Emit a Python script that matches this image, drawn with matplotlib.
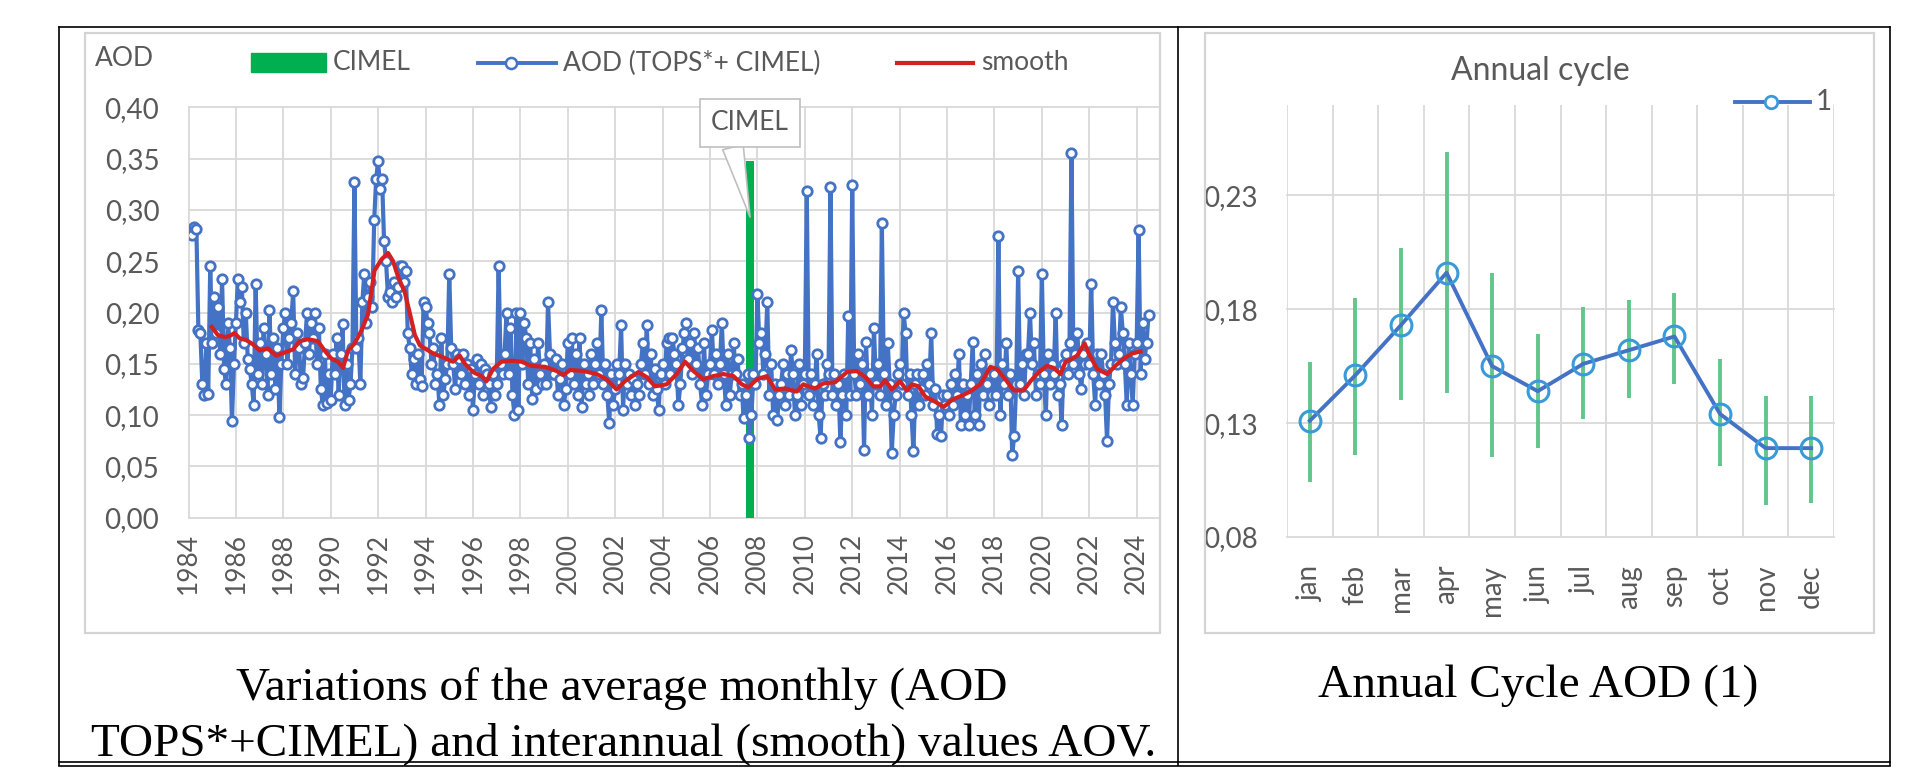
import numpy as np
import matplotlib
matplotlib.use('Agg')
import matplotlib.pyplot as plt
from matplotlib.lines import Line2D
from matplotlib.patches import Rectangle

# monthly AOD (TOPS* + CIMEL), one row per year (Jan..Dec)
# first value is March 1984
aod_1980s = [
    0.276, 0.283, 0.281, 0.183, 0.180, 0.130, 0.120, 0.170, 0.121, 0.245,  # 1984 (Mar-Dec)
    0.170, 0.215, 0.180, 0.205, 0.160, 0.233, 0.145, 0.130, 0.190, 0.165, 0.094, 0.150,
    0.190, 0.233, 0.210, 0.225, 0.170, 0.200, 0.155, 0.145, 0.130, 0.110, 0.228, 0.140,
    0.170, 0.130, 0.185, 0.160, 0.120, 0.202, 0.140, 0.175, 0.125, 0.165, 0.098, 0.150,
    0.185, 0.200, 0.150, 0.175, 0.190, 0.221, 0.140, 0.180, 0.165, 0.130, 0.136, 0.170,
    0.200, 0.160, 0.190, 0.175, 0.200, 0.150, 0.185, 0.125, 0.110, 0.160, 0.112, 0.140,
]
aod_1990s = [
    0.115, 0.160, 0.140, 0.175, 0.120, 0.160, 0.189, 0.110, 0.150, 0.115, 0.130, 0.165,
    0.327, 0.165, 0.175, 0.130, 0.210, 0.238, 0.190, 0.215, 0.230, 0.205, 0.290, 0.330,
    0.348, 0.320, 0.330, 0.270, 0.250, 0.215, 0.220, 0.210, 0.230, 0.215, 0.225, 0.245,
    0.245, 0.230, 0.240, 0.180, 0.165, 0.140, 0.155, 0.130, 0.160, 0.135, 0.128, 0.210,
    0.205, 0.190, 0.180, 0.150, 0.165, 0.130, 0.140, 0.110, 0.175, 0.120, 0.135, 0.150,
    0.238, 0.165, 0.150, 0.125, 0.160, 0.155, 0.140, 0.160, 0.130, 0.150, 0.120, 0.145,
    0.105, 0.140, 0.155, 0.130, 0.150, 0.120, 0.145, 0.140, 0.130, 0.108, 0.140, 0.120,
    0.130, 0.245, 0.150, 0.140, 0.160, 0.200, 0.140, 0.185, 0.120, 0.100, 0.200, 0.105,
    0.200, 0.150, 0.190, 0.175, 0.130, 0.170, 0.116, 0.155, 0.125, 0.170, 0.140, 0.130,
    0.150, 0.130, 0.210, 0.160, 0.140, 0.140, 0.155, 0.120, 0.135, 0.150, 0.110, 0.125,
]
aod_2000s = [
    0.170, 0.140, 0.175, 0.130, 0.160, 0.120, 0.175, 0.108, 0.150, 0.130, 0.140, 0.120,
    0.160, 0.130, 0.150, 0.170, 0.140, 0.202, 0.130, 0.150, 0.120, 0.092, 0.140, 0.110,
    0.125, 0.150, 0.140, 0.188, 0.105, 0.150, 0.130, 0.140, 0.120, 0.135, 0.110, 0.130,
    0.120, 0.150, 0.170, 0.140, 0.188, 0.130, 0.160, 0.120, 0.145, 0.125, 0.105, 0.140,
    0.150, 0.130, 0.170, 0.175, 0.140, 0.175, 0.160, 0.150, 0.110, 0.130, 0.165, 0.180,
    0.190, 0.155, 0.170, 0.140, 0.180, 0.150, 0.165, 0.130, 0.110, 0.170, 0.120, 0.140,
    0.150, 0.183, 0.140, 0.160, 0.130, 0.150, 0.190, 0.140, 0.110, 0.160, 0.120, 0.140,
    0.170, 0.140, 0.155, 0.120, 0.130, 0.097, 0.120, 0.140, 0.078, 0.100, 0.140, 0.130,
    0.218, 0.170, 0.180, 0.140, 0.160, 0.210, 0.120, 0.150, 0.100, 0.130, 0.095, 0.120,
    0.130, 0.150, 0.110, 0.140, 0.120, 0.163, 0.140, 0.100, 0.120, 0.150, 0.110, 0.130,
]
aod_2010s = [
    0.140, 0.318, 0.120, 0.140, 0.110, 0.130, 0.160, 0.100, 0.078, 0.130, 0.120, 0.150,
    0.140, 0.322, 0.120, 0.140, 0.110, 0.130, 0.074, 0.120, 0.140, 0.100, 0.197, 0.120,
    0.324, 0.140, 0.120, 0.160, 0.130, 0.150, 0.066, 0.171, 0.120, 0.140, 0.100, 0.185,
    0.130, 0.150, 0.120, 0.287, 0.140, 0.110, 0.170, 0.130, 0.063, 0.100, 0.120, 0.140,
    0.150, 0.130, 0.200, 0.180, 0.120, 0.140, 0.100, 0.065, 0.130, 0.140, 0.110, 0.125,
    0.140, 0.120, 0.150, 0.130, 0.180, 0.110, 0.125, 0.082, 0.100, 0.080, 0.120, 0.110,
    0.120, 0.100, 0.130, 0.110, 0.140, 0.120, 0.160, 0.090, 0.130, 0.100, 0.120, 0.090,
    0.130, 0.171, 0.100, 0.140, 0.090, 0.150, 0.120, 0.160, 0.130, 0.110, 0.140, 0.120,
    0.140, 0.120, 0.275, 0.100, 0.150, 0.130, 0.170, 0.120, 0.140, 0.061, 0.080, 0.130,
    0.240, 0.130, 0.150, 0.120, 0.160, 0.160, 0.200, 0.150, 0.170, 0.120, 0.140, 0.130,
]
aod_2020s = [
    0.238, 0.140, 0.100, 0.160, 0.130, 0.150, 0.140, 0.200, 0.120, 0.130, 0.090, 0.150,
    0.160, 0.140, 0.170, 0.355, 0.150, 0.160, 0.180, 0.140, 0.125, 0.160, 0.150, 0.170,
    0.150, 0.228, 0.140, 0.110, 0.160, 0.130, 0.160, 0.140, 0.120, 0.075, 0.130, 0.150,
    0.210, 0.170, 0.150, 0.160, 0.205, 0.180, 0.150, 0.110, 0.170, 0.140, 0.110, 0.160,
    0.170, 0.280, 0.140, 0.190, 0.155, 0.170, 0.198,  # 2024 (Jan-Jul)
]
first_month = 1984 + 2 / 12

# interannual smooth curve (red)
smooth_years = [1984.98, 1985.24, 1985.52, 1985.73, 1985.94, 1986.15, 1986.44, 1986.72,
                1987.00, 1987.35, 1987.70, 1988.05, 1988.41, 1988.69, 1989.04, 1989.46,
                1989.74, 1990.03, 1990.31, 1990.52, 1990.73, 1991.01, 1991.29, 1991.57,
                1991.85, 1992.15, 1992.42, 1992.63, 1992.84, 1993.12, 1993.33, 1993.55,
                1993.76, 1993.97, 1994.33, 1994.67, 1995.16, 1995.44, 1995.66, 1996.00,
                1996.36, 1996.57, 1996.85, 1997.20, 1997.63, 1998.05, 1998.47, 1999.04,
                1999.53, 1999.81, 2000.10, 2000.65, 2001.22, 2001.63, 2002.06, 2002.41,
                2002.98, 2003.33, 2003.68, 2004.17, 2004.59, 2004.95, 2005.30, 2005.72,
                2006.14, 2006.57, 2006.99, 2007.34, 2007.62, 2007.98, 2008.40, 2008.75,
                2009.17, 2009.66, 2009.94, 2010.15, 2010.44, 2010.79, 2011.28, 2011.78,
                2012.19, 2012.55, 2012.90, 2013.18, 2013.39, 2013.67, 2014.02, 2014.30,
                2014.52, 2014.80, 2015.08, 2015.50, 2015.86, 2016.21, 2016.63, 2016.98,
                2017.40, 2017.83, 2018.10, 2018.46, 2018.81, 2019.23, 2019.52, 2019.87,
                2020.22, 2020.50, 2020.79, 2021.00, 2021.28, 2021.49, 2021.80, 2021.98,
                2022.33, 2022.76, 2023.10, 2023.45, 2023.80, 2024.16]
smooth_vals = [0.186, 0.178, 0.176, 0.177, 0.180, 0.175, 0.173, 0.169,
               0.163, 0.165, 0.158, 0.161, 0.164, 0.172, 0.174, 0.172,
               0.163, 0.155, 0.152, 0.146, 0.163, 0.170, 0.182, 0.198,
               0.241, 0.252, 0.258, 0.250, 0.235, 0.220, 0.200, 0.178,
               0.168, 0.165, 0.160, 0.157, 0.152, 0.158, 0.150, 0.142,
               0.138, 0.133, 0.145, 0.152, 0.153, 0.152, 0.148, 0.147,
               0.143, 0.139, 0.144, 0.143, 0.140, 0.135, 0.125, 0.133,
               0.142, 0.137, 0.128, 0.130, 0.140, 0.152, 0.143, 0.135,
               0.138, 0.140, 0.138, 0.130, 0.127, 0.135, 0.138, 0.125,
               0.126, 0.123, 0.130, 0.128, 0.126, 0.131, 0.132, 0.142,
               0.143, 0.137, 0.128, 0.128, 0.134, 0.125, 0.133, 0.124,
               0.130, 0.128, 0.118, 0.113, 0.108, 0.115, 0.119, 0.123,
               0.130, 0.147, 0.145, 0.135, 0.124, 0.124, 0.133, 0.142,
               0.148, 0.146, 0.140, 0.152, 0.155, 0.158, 0.170, 0.160,
               0.145, 0.140, 0.148, 0.155, 0.160, 0.162]

# CIMEL start marker
cimel_year = 2007.69
cimel_height = 0.348

# annual cycle
month_labels = ['jan', 'feb', 'mar', 'apr', 'may', 'jun',
                'jul', 'aug', 'sep', 'oct', 'nov', 'dec']
cycle_mean = [0.131, 0.151, 0.173, 0.196, 0.155, 0.144, 0.156, 0.162, 0.168, 0.134, 0.119, 0.119]
cycle_low = [0.104, 0.116, 0.140, 0.143, 0.115, 0.119, 0.132, 0.141, 0.147, 0.111, 0.094, 0.095]
cycle_high = [0.157, 0.185, 0.207, 0.249, 0.196, 0.169, 0.181, 0.184, 0.187, 0.158, 0.142, 0.142]

W, H = 1914, 771
GREY = '#595959'
GRID = '#d9d9d9'
plt.rcParams['font.family'] = ['Lato', 'DejaVu Sans']

fig = plt.figure(figsize=(W / 100, H / 100), dpi=100)


def px_axes(x0, y0, x1, y1):
    return fig.add_axes([x0 / W, 1 - y1 / H, (x1 - x0) / W, (y1 - y0) / H])


def fx(x):
    return x / W


def fy(y):
    return 1 - y / H


# table frame and chart boxes
for xs, ys in [([58.6, 1890], [27.3, 27.3]), ([58.6, 58.6], [27.3, 765]),
               ([1178, 1178], [27.3, 765]), ([1890, 1890], [27.3, 765]),
               ([58.6, 1890], [762, 762]), ([58.6, 1890], [766, 766])]:
    fig.add_artist(Line2D([fx(v) for v in xs], [fy(v) for v in ys], color='black', lw=1.2))
for x0, x1 in [(85, 1160), (1205, 1874)]:
    fig.add_artist(Rectangle((fx(x0), fy(633)), (x1 - x0) / W, (633 - 32.7) / H,
                             fill=False, ec='#d4d4d4', lw=1.6))

# ---- left chart: monthly AOD
aod_monthly = np.array(aod_1980s + aod_1990s + aod_2000s + aod_2010s + aod_2020s)
aod_x = first_month + np.arange(len(aod_monthly)) / 12

ax = px_axes(188.5, 107.3, 1158, 517.7)
ax.bar([cimel_year], [cimel_height], width=0.3, color='#00b050', zorder=1)
ax.plot(aod_x, aod_monthly, color='#4472c4', lw=3.0, marker='o', ms=6.8,
        mfc='white', mec='#4472c4', mew=2.0, zorder=3)
ax.plot(smooth_years, smooth_vals, color='#d42020', lw=3.0, zorder=4)
ax.annotate('CIMEL', xy=(cimel_year, 0.293), xytext=(2007.67, 0.3847), textcoords='data',
            ha='center', va='center', fontsize=19, color=GREY, zorder=2,
            annotation_clip=False,
            bbox=dict(boxstyle='square,pad=0.42', fc='white', ec='#bfbfbf', lw=1.2),
            arrowprops=dict(arrowstyle='wedge,tail_width=0.8,shrink_factor=0.5',
                            fc='white', ec='#bfbfbf', lw=1.2, relpos=(0.25, 0.0),
                            shrinkA=0, shrinkB=0))

ax.set_xlim(1984, 2024.9)
ax.set_ylim(0, 0.40)
yt = np.arange(0, 0.401, 0.05)
ax.set_yticks(yt)
ax.set_yticklabels([f'{v:.2f}'.replace('.', ',') for v in yt])
ax.set_xticks(range(1984, 2025, 2))
ax.set_xticklabels([str(y) for y in range(1984, 2025, 2)], rotation=90)
ax.tick_params(axis='y', length=0, labelsize=20, colors=GREY, pad=21)
ax.tick_params(axis='x', length=0, labelsize=19, colors=GREY, pad=11)
ax.grid(True, color=GRID, lw=1.3)
ax.set_axisbelow(True)
for s in ax.spines.values():
    s.set_visible(False)
for gl in ax.get_ygridlines() + ax.get_xgridlines():
    gl.set_clip_on(False)

fig.text(fx(95), fy(58), 'AOD', ha='left', va='center', fontsize=19, color=GREY)
# legend row
fig.add_artist(Rectangle((fx(251), fy(72)), 75 / W, 19 / H, color='#00b050'))
fig.text(fx(333), fy(63), 'CIMEL', ha='left', va='center', fontsize=19, color=GREY)
fig.add_artist(Line2D([fx(478), fx(556)], [fy(63), fy(63)], color='#4472c4', lw=2.8))
fig.add_artist(Line2D([fx(511)], [fy(63)], color='#4472c4', marker='o', ms=8,
                      mfc='white', mew=1.8, lw=0))
fig.text(fx(563), fy(63), 'AOD (TOPS*+ CIMEL)', ha='left', va='center', fontsize=19, color=GREY)
fig.add_artist(Line2D([fx(897), fx(973)], [fy(63), fy(63)], color='#d42020', lw=3))
fig.text(fx(981), fy(63), 'smooth', ha='left', va='center', fontsize=19, color=GREY)

# ---- right chart: annual cycle
xm = np.arange(12)
mean = np.array(cycle_mean)
err = [mean - np.array(cycle_low), np.array(cycle_high) - mean]

ax2 = px_axes(1287, 105, 1834, 537)
ax2.errorbar(xm, mean, yerr=err, fmt='none', ecolor='#62c68a', elinewidth=2.8,
             capsize=0, zorder=2)
ax2.plot(xm, mean, color='#4472c4', lw=2.8, marker='o', ms=15, mfc='none',
         mec='#3a9ad9', mew=2.2, zorder=3)
ax2.set_xlim(-0.5, 11.5)
ax2.set_ylim(0.08, 0.2696)
yt2 = [0.08, 0.13, 0.18, 0.23]
ax2.set_yticks(yt2)
ax2.set_yticklabels([f'{v:.2f}'.replace('.', ',') for v in yt2])
ax2.set_xticks(xm)
ax2.set_xticklabels(month_labels, rotation=90)
ax2.set_xticks(np.arange(-0.5, 12, 1), minor=True)
ax2.tick_params(axis='both', which='both', length=0)
ax2.tick_params(axis='y', labelsize=20, colors=GREY, pad=21)
ax2.tick_params(axis='x', labelsize=20, colors=GREY, pad=20)
ax2.grid(True, which='minor', axis='x', color=GRID, lw=1.3)
ax2.grid(True, which='major', axis='y', color=GRID, lw=1.3)
ax2.set_axisbelow(True)
for s in ax2.spines.values():
    s.set_visible(False)
for gl in ax2.get_ygridlines() + ax2.xaxis.get_minorticklines():
    gl.set_clip_on(False)

fig.text(fx(1540), fy(71), 'Annual cycle', ha='center', va='center', fontsize=23, color=GREY)
fig.add_artist(Line2D([fx(1735), fx(1810)], [fy(102), fy(102)], color='#4472c4', lw=2.8))
fig.add_artist(Line2D([fx(1771)], [fy(102)], color='#3a9ad9', marker='o', ms=9,
                      mfc='white', mew=2, lw=0))
fig.text(fx(1816), fy(102), '1', ha='left', va='center', fontsize=20, color=GREY)

# captions
cap = dict(family=['Liberation Serif', 'DejaVu Serif'], fontsize=34, color='black',
           ha='center', va='baseline')
fig.text(fx(622), fy(700), 'Variations of the average monthly (AOD', **cap)
fig.text(fx(624), fy(755), 'TOPS*+CIMEL) and interannual (smooth) values AOV.', **cap)
fig.text(fx(1538), fy(697), 'Annual Cycle AOD (1)', **cap)

fig.savefig('out.png', dpi=100)
